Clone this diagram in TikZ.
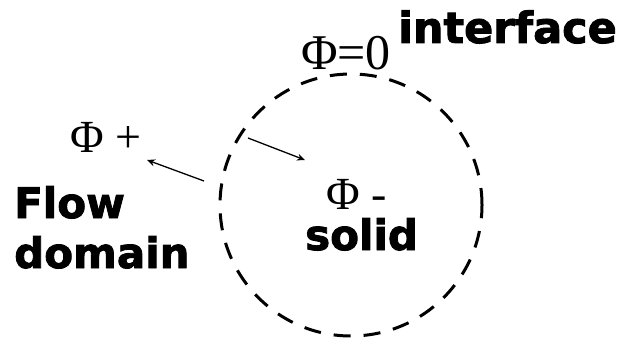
\documentclass[tikz,border=0pt]{standalone}
\usepackage{fontspec}
\newfontfamily\labelfont[UprightFont={* Bold},FakeBold=2]{DejaVu Sans}
\newfontfamily\phifont{Liberation Serif}
\usepackage{tikz}
\usetikzlibrary{arrows.meta,positioning}
\tikzset{
	boldlabel/.style={
		inner sep=0pt, anchor=base west, text=black,
		font=\labelfont\fontsize{42}{42}\selectfont
	},
	philabel/.style={
		inner sep=0pt, anchor=base west, text=black,
		font=\phifont\fontsize{48}{48}\selectfont
	},
	interface_line/.style={
		line width=3pt, dash pattern=on 17pt off 13pt
	},
	normal_arrow/.style={-{Stealth[length=8pt,width=7pt]}, line width=1.3pt}
}
\begin{document}
\begin{tikzpicture}[x=1pt,y=-1pt]
				\useasboundingbox (0,0) rectangle (618,345);
				% interface circle
				\draw[interface_line] (351,205) circle[radius=131pt];
				\node[boldlabel,font=\labelfont\fontsize{43}{43}\selectfont] (interface) at (398,43) {interface};
				\node[philabel,font=\phifont\fontsize{50}{50}\selectfont] (phizero) at (301,70) {Φ=0};
				\node[philabel,font=\phifont\fontsize{46}{46}\selectfont] (phiplus) at (70,152) {Φ +};
				\node[boldlabel] (flow) at (14,218) {Flow};
				\node[boldlabel] (domain) at (14,268) {domain};
				\node[philabel,font=\phifont\fontsize{46}{46}\selectfont] (phiminus) at (326,209) {Φ -};
				\node[boldlabel] (solid) at (305,250) {solid};
				% normal direction
				\coordinate (out_start) at (204,181);
				\coordinate (out_end) at (147,160);
				\coordinate (in_start) at (248,138);
				\coordinate (in_end) at (305,160);
				\draw[normal_arrow] (out_start) -- (out_end);
				\draw[normal_arrow] (in_start) -- (in_end);
\end{tikzpicture}
\end{document}
